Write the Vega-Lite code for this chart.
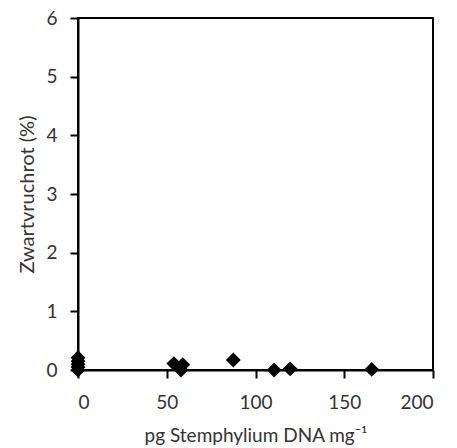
{
  "$schema": "https://vega.github.io/schema/vega-lite/v6.json",
  "width": 355,
  "height": 352,
  "autosize": {"type": "none"},
  "padding": {"left": 78, "top": 18, "right": 24, "bottom": 78},
  "background": "white",
  "config": {
    "view": {"stroke": "#000000", "strokeWidth": 2},
    "font": "Lato",
    "axis": {
      "grid": false,
      "domainColor": "#000000",
      "domainWidth": 2,
      "tickColor": "#000000",
      "tickWidth": 2,
      "tickSize": 8,
      "labelFont": "Lato",
      "labelFontSize": 19,
      "labelColor": "#333333",
      "titleFont": "Lato",
      "titleFontSize": 20,
      "titleFontWeight": "normal",
      "titleColor": "#333333"
    }
  },
  "data": {
    "values": [
      {"dna": 0, "rot": 0},
      {"dna": 0, "rot": 0.05},
      {"dna": 0, "rot": 0.1},
      {"dna": 0, "rot": 0.15},
      {"dna": 0, "rot": 0.21},
      {"dna": 54, "rot": 0.11},
      {"dna": 59, "rot": 0.09},
      {"dna": 58, "rot": 0},
      {"dna": 87.5, "rot": 0.17},
      {"dna": 110.5, "rot": 0},
      {"dna": 119.5, "rot": 0.02},
      {"dna": 165.5, "rot": 0.01}
    ]
  },
  "mark": {"type": "point", "shape": "diamond", "filled": true, "color": "#000000", "opacity": 1, "size": 220},
  "encoding": {
    "x": {
      "field": "dna",
      "type": "quantitative",
      "scale": {"domain": [0, 200], "nice": false, "zero": false},
      "axis": {"values": [0, 50, 100, 150, 200], "title": "pg Stemphylium DNA mg⁻¹", "titleFontSize": 19, "labelPadding": 15, "titlePadding": 14}
    },
    "y": {
      "field": "rot",
      "type": "quantitative",
      "scale": {"domain": [0, 6], "nice": false},
      "axis": {"values": [0, 1, 2, 3, 4, 5, 6], "title": "Zwartvruchrot (%)", "labelPadding": 13, "titlePadding": 8}
    }
  }
}
